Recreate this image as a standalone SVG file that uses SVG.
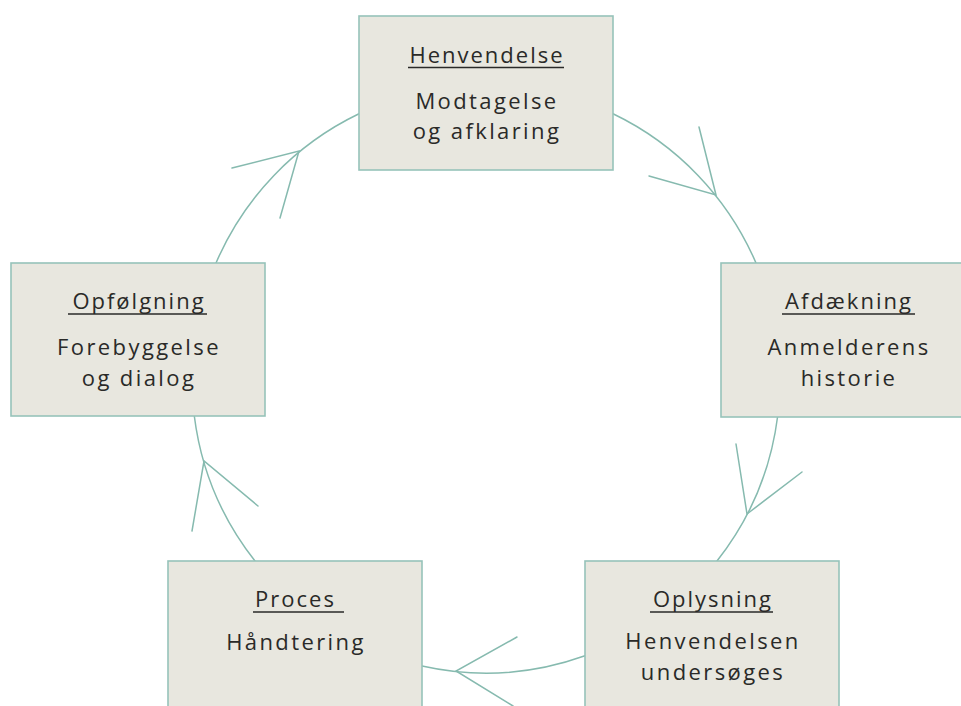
<svg xmlns="http://www.w3.org/2000/svg" width="961" height="706" viewBox="0 0 961 706">
<style>
.box{fill:#E8E7DF;stroke:#96C3BA;stroke-width:1.6}
.t{font-family:"Open Sans","Liberation Sans",sans-serif;font-size:22px;fill:#2A2A28;text-anchor:middle;letter-spacing:2px}
.b{letter-spacing:2.4px}
.u{stroke:#2A2A28;stroke-width:1.3}
.c{fill:none;stroke:#86BAAF;stroke-width:1.5;stroke-linecap:round}
</style>
<rect width="961" height="706" fill="#FFFFFF"/>
<g id="connectors">
<path class="c" d="M613,113.8 A294,294 0 0 1 756,263"/>
<path class="c" d="M777.7,416 A294,294 0 0 1 717,561"/>
<path class="c" d="M585,655.8 A294,294 0 0 1 422,666"/>
<path class="c" d="M255,561 A294,294 0 0 1 194.3,416"/>
<path class="c" d="M216,263 A294,294 0 0 1 359,113.8"/>
<polyline class="c" points="699,127 716,195 649,176"/>
<polyline class="c" points="736,444 747,514 802,472"/>
<polyline class="c" points="517,637 456,671 513,706"/>
<polyline class="c" points="192,531 204,461 258,506"/>
<polyline class="c" points="232,168 299,151 280,218"/>
</g>
<g id="henvendelse">
<rect class="box" x="359" y="16" width="254" height="154"/>
<text class="t" x="487" y="63">Henvendelse</text>
<line class="u" x1="408" y1="67.5" x2="564" y2="67.5"/>
<text class="t b" x="487" y="109">Modtagelse</text>
<text class="t b" x="487" y="139">og afklaring</text>
</g>
<g id="afdaekning">
<rect class="box" x="721" y="263" width="254" height="154"/>
<text class="t" x="849" y="309">Afdækning</text>
<line class="u" x1="782" y1="314" x2="915" y2="314"/>
<text class="t b" x="849" y="355">Anmelderens</text>
<text class="t b" x="849" y="386">historie</text>
</g>
<g id="oplysning">
<rect class="box" x="585" y="561" width="254" height="154"/>
<text class="t" x="713" y="607">Oplysning</text>
<line class="u" x1="650" y1="612" x2="773" y2="612"/>
<text class="t b" x="713" y="649">Henvendelsen</text>
<text class="t b" x="713" y="680">undersøges</text>
</g>
<g id="proces">
<rect class="box" x="168" y="561" width="254" height="154"/>
<text class="t" x="295.5" y="607">Proces </text>
<line class="u" x1="253" y1="612" x2="344" y2="612"/>
<text class="t b" x="296" y="650">Håndtering</text>
</g>
<g id="opfoelgning">
<rect class="box" x="11" y="263" width="254" height="153"/>
<text class="t" x="139" y="309">Opfølgning</text>
<line class="u" x1="68" y1="314" x2="207" y2="314"/>
<text class="t b" x="139" y="355">Forebyggelse</text>
<text class="t b" x="139" y="386">og dialog</text>
</g>
</svg>
